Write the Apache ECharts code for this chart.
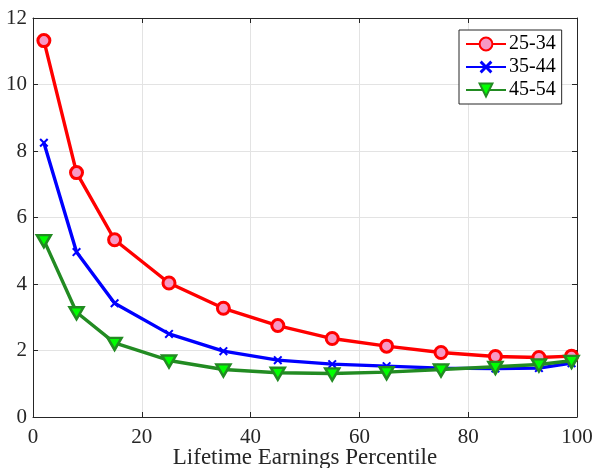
<!DOCTYPE html>
<html>
<head>
<meta charset="utf-8">
<script src="https://cdn.jsdelivr.net/npm/echarts@6/dist/echarts.min.js"></script>
<style>html,body{margin:0;padding:0;background:#fff}#c{width:592px;height:468px}</style>
</head>
<body>
<div id="c"></div>
<script>
var percentiles = [2, 8, 15, 25, 35, 45, 55, 65, 75, 85, 93, 99];
var age2534 = [11.32, 7.35, 5.33, 4.03, 3.27, 2.75, 2.36, 2.13, 1.94, 1.82, 1.79, 1.83];
var age3544 = [8.25, 4.96, 3.42, 2.50, 1.98, 1.71, 1.59, 1.53, 1.47, 1.46, 1.47, 1.62];
var age4554 = [5.32, 3.15, 2.23, 1.70, 1.43, 1.33, 1.31, 1.35, 1.43, 1.51, 1.58, 1.69];
var seriesNames = ['25-34', '35-44', '45-54'];
var xTitle = 'Lifetime Earnings Percentile';

function pairs(ys) { return percentiles.map(function (x, i) { return [x, ys[i]]; }); }

var font = "'Liberation Serif', 'DejaVu Serif', serif";
var axisColor = '#262626';
var gridColor = '#e3e3e3';

var chart = echarts.init(document.getElementById('c'), null, {renderer: 'canvas'});
var crossPath = 'path://M0,1.6 L1.6,0 L5,3.4 L8.4,0 L10,1.6 L6.6,5 L10,8.4 L8.4,10 L5,6.6 L1.6,10 L0,8.4 L3.4,5 Z';
var triPath = 'path://M0,0 L10,0 L5,9 Z';

chart.setOption({
  animation: false,
  backgroundColor: '#fff',
  grid: {left: 33, right: 15, top: 18, bottom: 51, containLabel: false, outerBoundsMode: 'none'},
  legend: {
    orient: 'vertical',
    left: 459, top: 30,
    padding: [4, 6, 4, 6],
    itemWidth: 40, itemHeight: 16, itemGap: 3,
    borderColor: '#262626', borderWidth: 1,
    backgroundColor: '#fff',
    textStyle: {fontFamily: font, fontSize: 20, color: '#000', padding: [0, 0, 0, -2], lineHeight: 20},
    data: seriesNames
  },
  xAxis: [{
    type: 'value', min: 0, max: 100, interval: 20,
    name: xTitle, nameLocation: 'middle', nameGap: 29, nameMoveOverlap: false,
    nameTextStyle: {fontFamily: font, fontSize: 23, color: axisColor, verticalAlign: 'top'},
    axisLine: {show: true, onZero: false, lineStyle: {color: axisColor, width: 1}},
    axisTick: {show: true, inside: true, length: 5, lineStyle: {color: axisColor}},
    axisLabel: {fontFamily: font, fontSize: 21, color: axisColor, margin: 10},
    splitLine: {show: true, lineStyle: {color: gridColor, width: 1}}
  }, {
    type: 'value', min: 0, max: 100, interval: 20, position: 'top',
    axisLine: {show: true, onZero: false, lineStyle: {color: axisColor, width: 1}},
    axisTick: {show: true, inside: true, length: 5, lineStyle: {color: axisColor}},
    axisLabel: {show: false}, splitLine: {show: false}
  }],
  yAxis: [{
    type: 'value', min: 0, max: 12, interval: 2,
    axisLine: {show: true, onZero: false, lineStyle: {color: axisColor, width: 1}},
    axisTick: {show: true, inside: true, length: 5, lineStyle: {color: axisColor}},
    axisLabel: {fontFamily: font, fontSize: 21, color: axisColor, margin: 6},
    splitLine: {show: true, lineStyle: {color: gridColor, width: 1}}
  }, {
    type: 'value', min: 0, max: 12, interval: 2, position: 'right',
    axisLine: {show: true, onZero: false, lineStyle: {color: axisColor, width: 1}},
    axisTick: {show: true, inside: true, length: 5, lineStyle: {color: axisColor}},
    axisLabel: {show: false}, splitLine: {show: false}
  }],
  series: [{
    name: seriesNames[0], type: 'line', data: pairs(age2534),
    symbol: 'circle', symbolSize: 12,
    lineStyle: {color: '#ff0000', width: 3.4},
    itemStyle: {color: '#f799c5', borderColor: '#ff0000', borderWidth: 3},
    emphasis: {disabled: true}, z: 2
  }, {
    name: seriesNames[1], type: 'line', data: pairs(age3544),
    symbol: crossPath, symbolSize: 9,
    lineStyle: {color: '#0000ff', width: 3.4},
    itemStyle: {color: '#0000ff', borderWidth: 0},
    emphasis: {disabled: true}, z: 3
  }, {
    name: seriesNames[2], type: 'line', data: pairs(age4554),
    symbol: triPath, symbolSize: [14, 12], symbolOffset: [0, 1],
    lineStyle: {color: '#228b22', width: 3.4},
    itemStyle: {color: '#00ff00', borderColor: '#228b22', borderWidth: 2.5},
    emphasis: {disabled: true}, z: 4
  }]
});
</script>
</body>
</html>
